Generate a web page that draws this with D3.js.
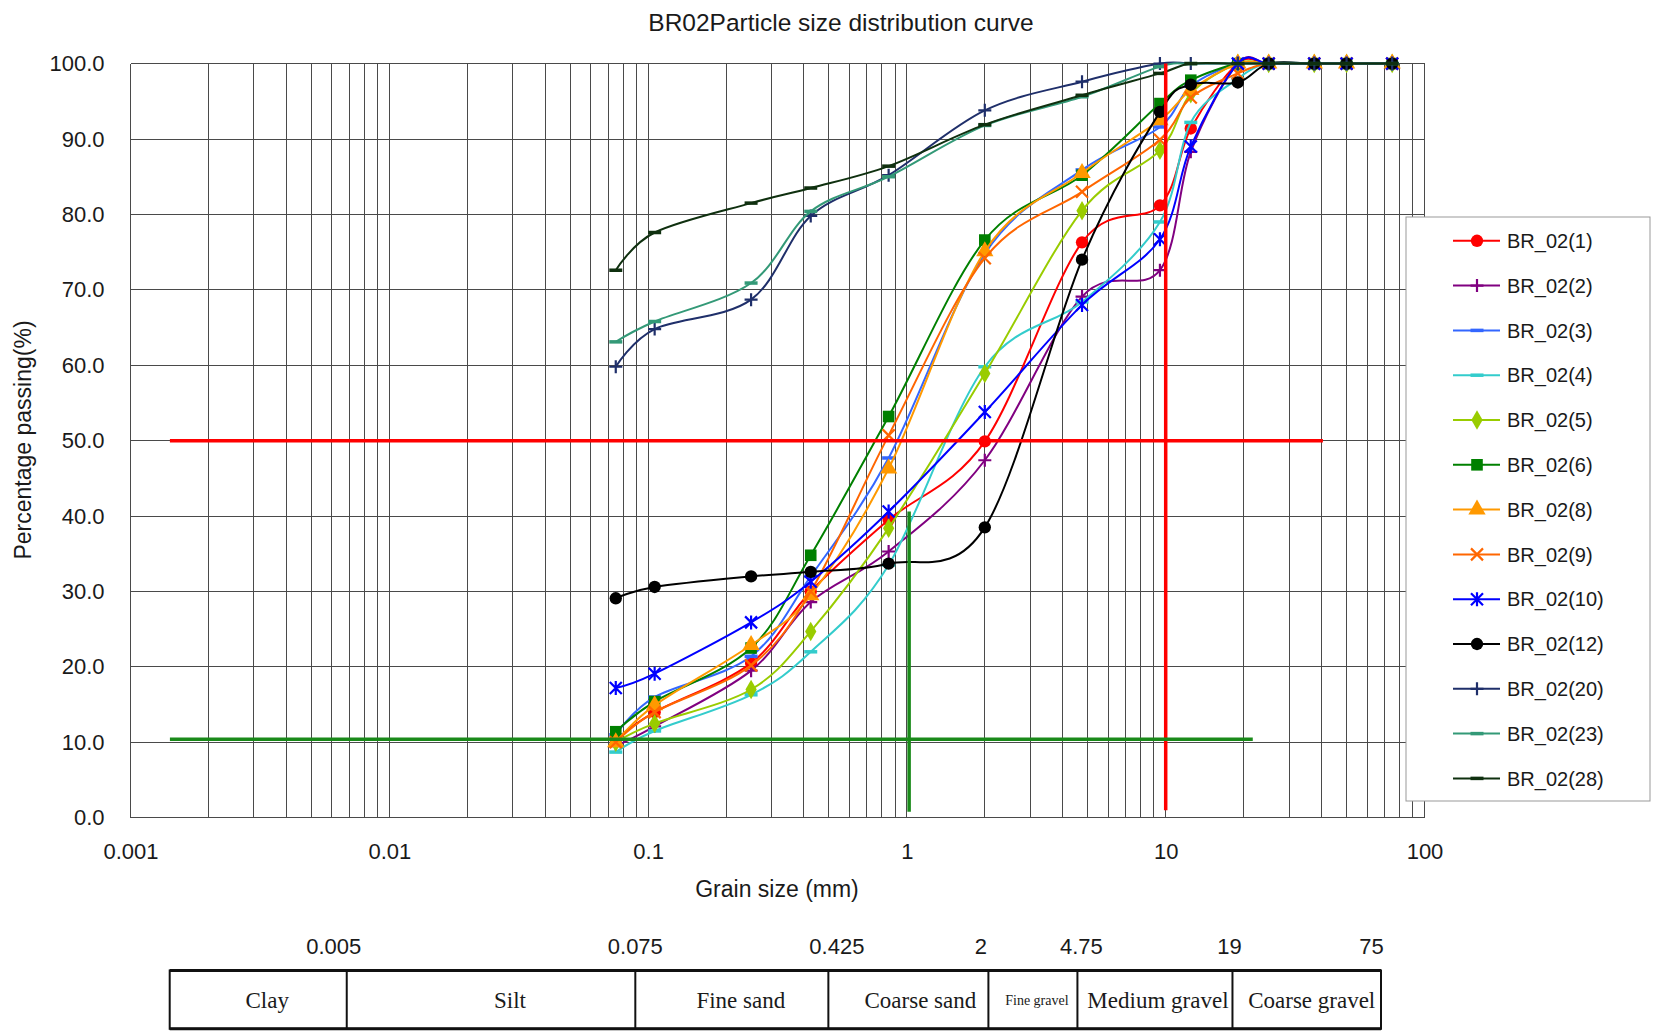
<!DOCTYPE html>
<html>
<head>
<meta charset="utf-8">
<title>BR02 Particle size distribution curve</title>
<script src="https://d3js.org/d3.v7.min.js"></script>
<style>
    body { margin: 0; background: #fff; }
    text { font-family: "Liberation Sans", Arial, sans-serif; fill: #1a1a1a; }
    .tbl text { font-family: "Liberation Serif", "Times New Roman", serif; }
</style>
</head>
<body>
<svg id="svg" width="1663" height="1033"></svg>
<script>
    // sieve sizes (mm)
    var sieve = [0.075, 0.106, 0.25, 0.425, 0.85, 2, 4.75, 9.5, 12.5, 19, 25, 37.5, 50, 75];

    var names = ["BR_02(1)", "BR_02(2)", "BR_02(3)", "BR_02(4)", "BR_02(5)", "BR_02(6)", "BR_02(8)",
        "BR_02(9)", "BR_02(10)", "BR_02(12)", "BR_02(20)", "BR_02(23)", "BR_02(28)"];

    // percentage passing for each sample
    var p01 = [10.3, 14.0, 20.5, 30.0, 39.5, 49.9, 76.3, 81.2, 91.4, 100, 100, 100, 100, 100];
    var p02 = [9.5, 12.1, 19.5, 28.6, 35.3, 47.4, 69.1, 72.6, 88.3, 100, 100, 100, 100, 100];
    var p03 = [11.0, 16.0, 21.4, 32.0, 47.7, 74.8, 85.9, 91.6, 97.0, 100, 100, 100, 100, 100];
    var p04 = [8.7, 11.5, 16.3, 22.0, 33.5, 59.8, 68.4, 79.0, 92.2, 98.0, 100, 100, 100, 100];
    var p05 = [10.0, 12.5, 17.0, 24.7, 38.4, 58.9, 80.5, 88.5, 96.0, 100, 100, 100, 100, 100];
    var p06 = [11.4, 15.4, 22.5, 34.8, 53.2, 76.6, 85.2, 94.7, 97.8, 100, 100, 100, 100, 100];
    var p08 = [10.0, 14.9, 22.9, 29.5, 46.3, 75.1, 85.5, 92.5, 96.5, 100, 100, 100, 100, 100];
    var p09 = [10.0, 14.0, 20.2, 30.0, 50.7, 74.2, 83.0, 89.9, 95.5, 98.7, 100, 100, 100, 100];
    var p10 = [17.2, 19.1, 25.9, 31.3, 40.6, 53.8, 68.0, 76.7, 89.0, 100, 100, 100, 100, 100];
    var p12 = [29.1, 30.6, 32.0, 32.6, 33.7, 38.5, 74.0, 93.6, 97.2, 97.5, 100, 100, 100, 100];
    var p20 = [59.8, 64.8, 68.7, 79.8, 85.2, 93.8, 97.6, 100, 100, 100, 100, 100, 100, 100];
    var p23 = [63.1, 65.8, 70.9, 80.4, 85.0, 91.8, 95.6, 99.6, 100, 100, 100, 100, 100, 100];
    var p28 = [72.6, 77.6, 81.5, 83.5, 86.4, 91.9, 95.8, 98.7, 100, 100, 100, 100, 100, 100];
    var passing = [p01, p02, p03, p04, p05, p06, p08, p09, p10, p12, p20, p23, p28];

    var colors = ["#ff0000", "#800080", "#3366ff", "#33cccc", "#99cc00", "#008000", "#ff9900",
        "#ff6600", "#0000ff", "#000000", "#1f2f6a", "#339977", "#0f300f"];
    var markers = ["circle", "plus", "dash", "dash", "diamond", "square", "triangle",
        "cross", "star", "circle", "plus", "dash", "dash"];

    var xTickValues = [0.001, 0.01, 0.1, 1, 10, 100];
    var xTickLabels = ["0.001", "0.01", "0.1", "1", "10", "100"];
    var yTicks = d3.range(0, 101, 10);

    // soil classification table
    var classNames = ["Clay", "Silt", "Fine sand", "Coarse sand", "Fine gravel", "Medium gravel", "Coarse gravel"];
    var classLimits = ["0.005", "0.075", "0.425", "2", "4.75", "19", "75"];

    // D50 / D10 guide lines, in data units: [x1, x2, y1, y2]
    var d50Lines = [[0.00142, 40.5, 50, 50], [10, 10, 100, 1]];
    var d10Lines = [[0.00142, 21.7, 10.4, 10.4], [1.02, 1.02, 40.6, 0.8]];

    var svg = d3.select("#svg");
    svg.append("rect").attr("width", 1663).attr("height", 1033).attr("fill", "white");

    var x = d3.scaleLog().domain([0.001, 100]).range([130.5, 1424.5]),
        y = d3.scaleLinear().domain([0, 100]).range([817.7, 63.6]);

    // grid
    var grid = svg.append("g").attr("stroke", "#4a4a4a").attr("stroke-width", 1).attr("shape-rendering", "crispEdges");
    grid.selectAll(".vg").data(x.ticks()).join("line")
        .attr("x1", d => x(d)).attr("x2", d => x(d))
        .attr("y1", y(0)).attr("y2", y(100));
    grid.selectAll(".hg").data(yTicks).join("line")
        .attr("x1", x(0.001)).attr("x2", x(100))
        .attr("y1", d => y(d)).attr("y2", d => y(d));

    // axes
    var yAxis = svg.append("g").attr("transform", "translate(" + x(0.001) + ",0)")
        .call(d3.axisLeft(y).tickValues(yTicks).tickFormat(d3.format(".1f")).tickSize(0).tickPadding(26));
    var xAxis = svg.append("g").attr("transform", "translate(0," + y(0) + ")")
        .call(d3.axisBottom(x).tickValues(xTickValues).tickFormat((d, i) => xTickLabels[i]).tickSize(0).tickPadding(26));
    [xAxis, yAxis].forEach(a => {
        a.select(".domain").remove();
        a.selectAll("text").attr("font-size", 22).attr("fill", "#1a1a1a")
            .style("font-family", "'Liberation Sans', Arial, sans-serif");
    });

    svg.append("text").attr("x", 841).attr("y", 31).attr("text-anchor", "middle").attr("font-size", 24.5)
        .text("BR02Particle size distribution curve");
    svg.append("text").attr("x", 777).attr("y", 897).attr("text-anchor", "middle").attr("font-size", 23)
        .text("Grain size (mm)");
    svg.append("text").attr("transform", "translate(31,440) rotate(-90)").attr("text-anchor", "middle")
        .attr("font-size", 23).text("Percentage passing(%)");

    // markers
    function marker(sel, type, color) {
        var p;
        if (type == "circle") p = d3.symbol(d3.symbolCircle, 120)();
        else if (type == "square") p = d3.symbol(d3.symbolSquare, 135)();
        else if (type == "triangle") p = d3.symbol(d3.symbolTriangle, 130)();
        else if (type == "diamond") p = d3.symbol(d3.symbolDiamond, 110)();
        if (p) {
            sel.append("path").attr("d", p).attr("fill", color);
            return;
        }
        var d = {
            plus: "M-6.5,0H6.5M0,-6.5V6.5",
            cross: "M-6,-6L6,6M-6,6L6,-6",
            star: "M-6,-6L6,6M-6,6L6,-6M0,-7V7",
            dash: "M-6.5,0H6.5"
        }[type];
        sel.append("path").attr("d", d).attr("fill", "none").attr("stroke", color)
            .attr("stroke-width", type == "dash" ? 3.5 : 2.2);
    }

    // curves
    var linegen = d3.line().curve(d3.curveCardinal.tension(0))
        .x((d, i) => x(sieve[i])).y(d => y(d));
    var plot = svg.append("g");
    passing.forEach((vals, k) => {
        plot.append("path").attr("d", linegen(vals)).attr("fill", "none")
            .attr("stroke", colors[k]).attr("stroke-width", 2);
        vals.forEach((v, i) => {
            var m = plot.append("g").attr("transform", "translate(" + x(sieve[i]) + "," + y(v) + ")");
            marker(m, markers[k], colors[k]);
        });
    });

    // guide lines
    var guides = svg.append("g").attr("stroke-width", 3.5);
    guides.selectAll(".d50").data(d50Lines).join("line").attr("stroke", "#ff0000")
        .attr("x1", d => x(d[0])).attr("x2", d => x(d[1])).attr("y1", d => y(d[2])).attr("y2", d => y(d[3]));
    guides.selectAll(".d10").data(d10Lines).join("line").attr("stroke", "#1a8a1a")
        .attr("x1", d => x(d[0])).attr("x2", d => x(d[1])).attr("y1", d => y(d[2])).attr("y2", d => y(d[3]));

    // legend
    var leg = svg.append("g");
    leg.append("rect").attr("x", 1406).attr("y", 217).attr("width", 244).attr("height", 584)
        .attr("fill", "white").attr("stroke", "#999").attr("stroke-width", 1);
    names.forEach((n, k) => {
        var ly = 240.8 + k * 44.8;
        leg.append("line").attr("x1", 1453).attr("x2", 1500).attr("y1", ly).attr("y2", ly)
            .attr("stroke", colors[k]).attr("stroke-width", 2);
        marker(leg.append("g").attr("transform", "translate(1477," + ly + ")"), markers[k], colors[k]);
        leg.append("text").attr("x", 1507).attr("y", ly).attr("dy", "0.36em").attr("font-size", 20).text(n);
    });

    // classification table
    var colW = [177, 288.5, 193, 160, 89, 155, 148.5];
    var nameShift = [9, 19, 9, 12, 4, 3, 5];
    var limitShift = [-13, 0, 8.5, -7.5, 4, -3, -9.5];
    var edges = [0];
    colW.forEach(w => edges.push(edges[edges.length - 1] + w));
    var tx = d3.scaleLinear().domain([0, edges[edges.length - 1]]).range([169.7, 1381]);
    var tTop = 970.5, tBot = 1028.8;
    var tbl = svg.append("g").attr("class", "tbl");
    tbl.append("rect").attr("x", tx(0)).attr("y", tTop).attr("width", tx(edges[7]) - tx(0)).attr("height", tBot - tTop)
        .attr("fill", "none").attr("stroke", "#111").attr("stroke-width", 2);
    tbl.selectAll(".hb").data([tTop, tBot]).join("line")
        .attr("x1", tx(0)).attr("x2", tx(edges[7])).attr("y1", d => d).attr("y2", d => d)
        .attr("stroke", "#111").attr("stroke-width", 3);
    tbl.selectAll(".div").data(edges.slice(1, 7)).join("line")
        .attr("x1", d => tx(d)).attr("x2", d => tx(d)).attr("y1", tTop).attr("y2", tBot)
        .attr("stroke", "#111").attr("stroke-width", 2);
    tbl.selectAll(".cn").data(classNames).join("text")
        .attr("x", (d, i) => (tx(edges[i]) + tx(edges[i + 1])) / 2 + nameShift[i]).attr("y", 1000).attr("dy", "0.35em")
        .attr("text-anchor", "middle").attr("font-size", (d, i) => i == 4 ? 14 : 23).text(d => d);
    svg.selectAll(".cl").data(classLimits).join("text")
        .attr("x", (d, i) => tx(edges[i + 1]) + limitShift[i]).attr("y", 946).attr("dy", "0.36em")
        .attr("text-anchor", "middle").attr("font-size", 22).text(d => d);
</script>
</body>
</html>
